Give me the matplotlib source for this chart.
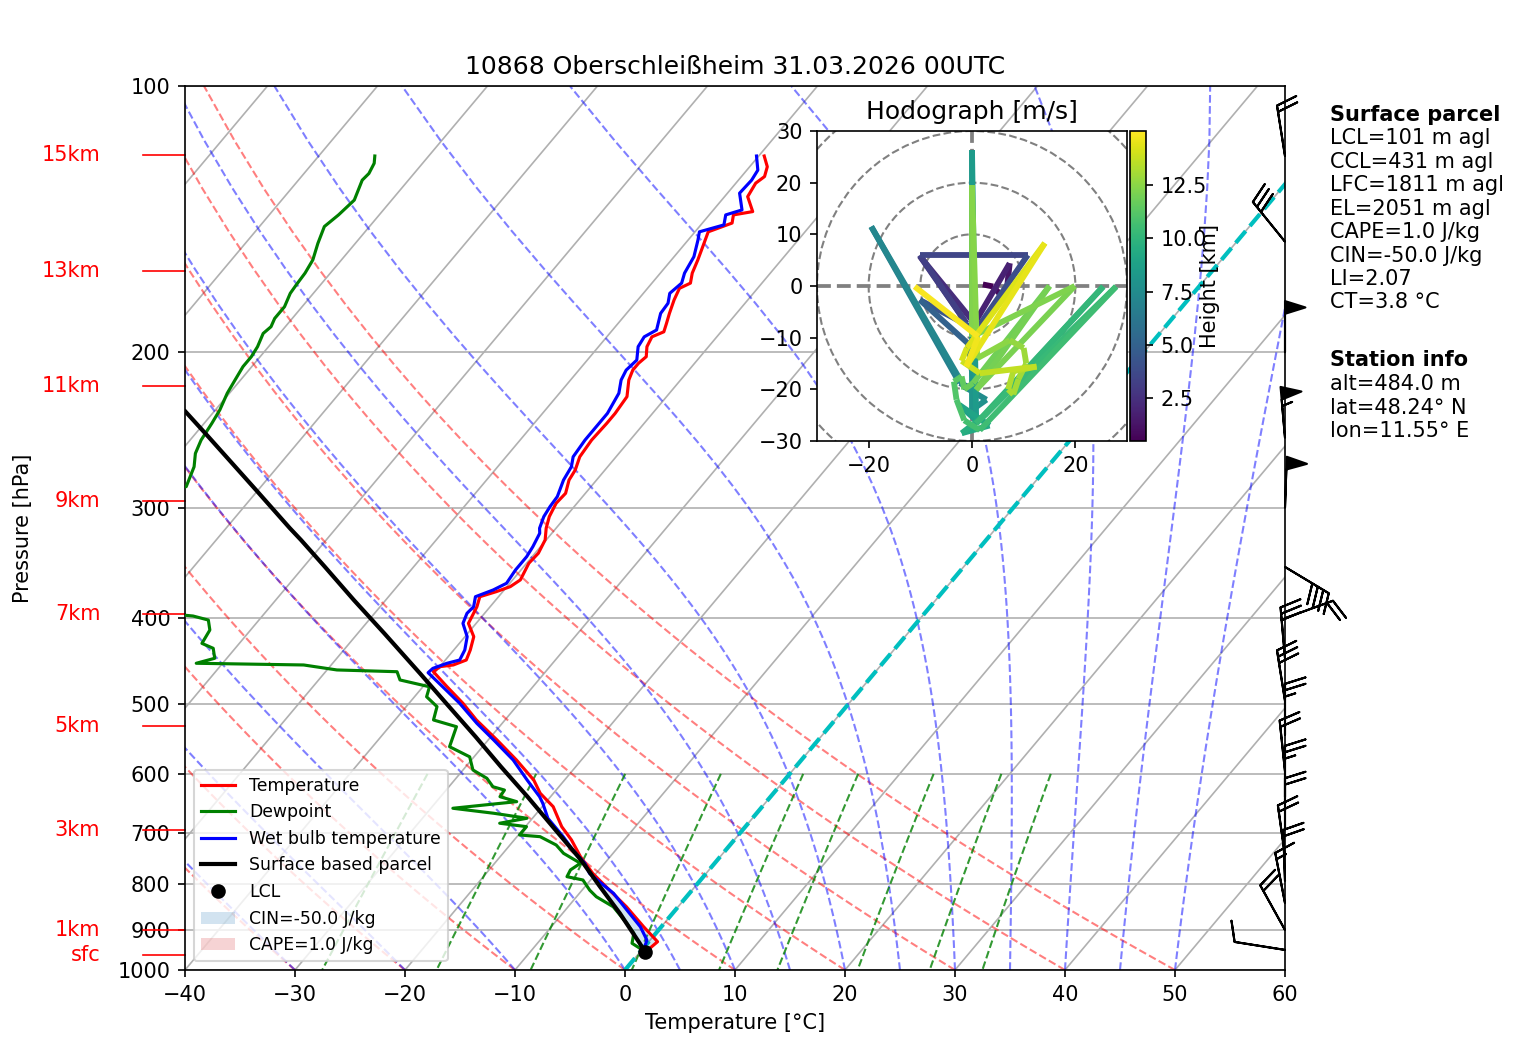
import numpy as np
import matplotlib
matplotlib.use("Agg")
import matplotlib.pyplot as plt
import matplotlib.transforms as mtransforms
from matplotlib.collections import LineCollection
from matplotlib.lines import Line2D
from matplotlib.patches import Patch, Circle
from matplotlib.colors import Normalize
from matplotlib.ticker import NullLocator

# ---------------- data ----------------
title = "10868 Oberschleißheim 31.03.2026 00UTC"

temp_p = [945.0, 929.0, 893.6, 848.1, 812.3, 777.6, 744.4, 712.6, 688.4, 653.5, 631.1, 609.7,
          578.7, 549.3, 521.4, 499.2, 478.2, 459.8, 453.8, 451.8, 446.0, 434.5, 419.7, 405.4,
          398.4, 388.2, 378.2, 373.3, 368.4, 362.0, 346.6, 337.7, 326.2, 316.4, 307.0, 296.5,
          288.9, 279.1, 271.9, 262.7, 251.5, 240.8, 234.6, 224.6, 215.1, 209.6, 205.9, 202.4,
          197.2, 192.2, 189.7, 185.6, 180.8, 174.6, 169.4, 167.1, 162.8, 157.3, 150.7, 146.2,
          142.9, 139.9, 138.7, 133.4, 128.8, 126.6, 123.4, 120.0]
temp_t = [0.6, 0.8, -1.6, -4.7, -7.5, -10.3, -12.7, -14.8, -16.7, -19.0, -21.2, -22.8,
          -25.9, -29.2, -32.6, -35.1, -37.8, -40.2, -40.0, -38.9, -38.1, -38.5, -39.2, -40.7,
          -40.9, -41.2, -41.7, -40.6, -39.7, -39.3, -39.8, -39.7, -40.1, -40.9, -41.5, -41.9,
          -41.8, -42.5, -42.7, -43.3, -43.5, -43.4, -43.4, -43.6, -44.7, -45.1, -45.1, -44.9,
          -45.6, -45.9, -45.2, -45.6, -46.1, -46.7, -47.1, -46.5, -47.1, -47.6, -48.3, -48.8,
          -47.3, -47.8, -46.3, -47.9, -48.2, -47.9, -48.4, -49.5]

dew_p = [945.1, 932.8, 908.9, 885.5, 848.1, 826.3, 812.3, 791.0, 784.2, 770.5, 757.3, 737.9,
         722.1, 706.6, 703.5, 688.4, 682.3, 673.5, 664.8, 656.2, 645.0, 636.7, 625.8, 620.4,
         606.9, 593.9, 573.9, 559.0, 530.6, 521.4, 503.6, 490.8, 478.2, 469.8, 459.8, 457.7,
         451.8, 449.8, 444.0, 432.6, 427.1, 412.5, 401.9, 397.7, 396.7, 385.0, 350.0, 310.0,
         283.9, 269.6, 260.4, 251.5, 240.8, 232.5, 222.6, 215.1, 207.7, 202.4, 197.2, 190.5,
         187.2, 183.2, 177.7, 171.6, 167.9, 162.8, 157.3, 150.7, 144.2, 139.9, 134.6, 127.8,
         125.6, 122.3, 120.0]
dew_t = [-0.3, -1.4, -2.0, -3.4, -5.9, -8.2, -9.3, -10.7, -12.4, -12.6, -12.2, -14.5,
         -15.8, -17.9, -19.9, -19.9, -22.6, -20.5, -23.9, -28.0, -22.7, -24.6, -24.7, -26.0,
         -27.2, -29.1, -30.4, -33.0, -33.9, -36.5, -37.2, -38.9, -39.4, -42.6, -43.5, -49.1,
         -52.5, -62.4, -61.1, -62.0, -63.4, -63.7, -64.6, -66.3, -67.3, -78.0, -86.0, -85.0,
         -76.8, -77.6, -78.5, -79.0, -79.3, -79.6, -80.2, -80.5, -80.8, -80.8, -81.0, -81.5,
         -81.3, -81.6, -81.6, -82.1, -82.2, -82.3, -82.6, -83.4, -84.1, -83.7, -83.4, -84.2,
         -84.1, -84.4, -84.9]

wb_p = [945.0, 924.9, 893.6, 855.5, 818.9, 791.0, 777.6, 757.3, 731.6, 706.6, 673.5, 647.8,
        636.7, 609.7, 578.7, 549.3, 526.0, 499.2, 478.2, 461.0, 455.8, 449.8, 446.0, 434.5,
        419.7, 405.4, 394.9, 388.2, 378.2, 371.6, 365.2, 352.7, 340.7, 332.0, 320.6, 316.4,
        307.0, 299.1, 291.4, 279.1, 269.6, 262.7, 251.5, 240.8, 234.6, 222.6, 215.1, 209.6,
        204.2, 197.2, 192.2, 188.8, 180.8, 176.1, 171.6, 167.1, 162.8, 156.0, 149.4, 146.2,
        143.6, 139.9, 138.1, 132.2, 127.8, 124.5, 120.0]
wb_t = [0.1, -0.3, -1.9, -4.4, -6.9, -9.4, -10.6, -11.8, -13.9, -15.8, -18.6, -20.2,
        -21.0, -23.4, -26.2, -29.5, -32.3, -35.4, -38.2, -40.6, -40.5, -39.6, -38.7, -39.0,
        -39.8, -41.2, -41.6, -41.5, -42.1, -41.0, -40.3, -40.5, -40.5, -40.7, -41.1, -41.5,
        -42.0, -42.2, -42.3, -43.0, -43.3, -43.9, -44.1, -44.1, -44.1, -44.6, -45.4, -45.7,
        -45.5, -46.4, -46.6, -46.0, -46.9, -47.0, -47.6, -47.3, -47.8, -48.2, -49.1, -49.6,
        -47.9, -48.5, -47.4, -48.9, -48.8, -49.0, -50.2]

parcel_p = [953.5, 932.8, 862.7, 805.4, 750.9, 694.5, 636.7, 588.9, 544.6, 503.6, 461.7,
            416.0, 381.5, 349.7, 326.2, 316.4, 286.4, 267.2, 249.3, 233.5]
parcel_t = [0.4, -0.7, -4.8, -8.6, -12.4, -17.0, -22.1, -26.8, -31.4, -36.1, -41.3,
            -47.6, -52.9, -58.1, -62.3, -64.2, -70.2, -74.4, -78.6, -82.6]

lcl_p = 953.5
lcl_t = 0.4
lfc_p = 770.0

height_labels = ["sfc", "1km", "3km", "5km", "7km", "9km", "11km", "13km", "15km"]
height_p = [961.7, 901.1, 694.5, 529.6, 395.9, 294.7, 218.5, 161.9, 119.7]

barb_p = [949, 901, 840, 793, 743, 693, 637, 596, 542, 496, 444, 400, 350, 300, 250, 200, 150, 120]
barb_dir = [279, 331, 349, 358, 352, 0, 0, 354, 0, 351, 355, 70, 121, 2, 355, 0, 321, 351]
barb_spd = [10, 20, 15, 20, 20, 20, 25, 20, 25, 30, 30, 20, 40, 50, 55, 50, 30, 20]

hodo_h = [0.48, 0.9, 1.3, 1.8, 2.3, 2.8, 3.2, 3.5, 3.9, 4.4, 5.0, 5.6, 6.2, 6.8, 7.2, 7.5,
          7.8, 8.1, 8.4, 8.7, 9.0, 9.3, 9.6, 9.9, 10.1, 10.3, 10.5, 10.7, 10.9, 11.1, 11.3,
          11.5, 11.7, 11.9, 12.0, 12.1, 12.2, 12.3, 12.4, 12.5, 12.7, 12.9, 13.0, 13.1, 13.2,
          13.3, 13.5, 13.7, 13.9, 14.1, 14.3, 14.5, 14.7, 14.9, 15.04]
hodo_u = [2.1, 4.1, 6.5, 7.3, 0.5, -10.1, -1.1, -10.1, 10.8, 0.8, -10.1, -0.8, 0.5, -2.4,
          -19.5, -1.5, 2.8, 0.0, 0.0, 0.8, -2.5, 3.4, -2.0, 2.5, 25.4, 0.8, 27.9, 1.5, -1.5,
          -3.0, -3.5, -2.0, -1.5, 0.2, 15.0, 0.8, 19.9, 0.0, 0.0, 1.0, 7.3, 10.0, 10.5, 9.0,
          8.0, 7.0, 8.0, 12.5, 1.5, -2.0, -1.0, 14.1, -1.1, 1.2, -11.1]
hodo_v = [0.3, -0.1, -2.8, 4.4, -7.2, 5.8, -7.2, 6.0, 6.0, -8.5, -2.7, -11.1, -20.0, -18.8,
          11.5, -19.5, -22.0, -24.0, 26.3, -26.0, -23.0, -27.0, -28.5, -25.0, -0.1, -26.6,
          -0.1, -27.9, -26.0, -22.0, -18.5, -17.5, -20.0, -18.8, 0.0, -20.1, 0.0, -9.8, 19.5,
          -14.0, -10.5, -12.0, -15.0, -18.0, -21.0, -20.0, -16.5, -15.6, -16.9, -14.5, -12.0,
          8.3, -15.6, -9.8, -0.1]

parcel_info = ["LCL=101 m agl", "CCL=431 m agl", "LFC=1811 m agl", "EL=2051 m agl",
               "CAPE=1.0 J/kg", "CIN=-50.0 J/kg", "LI=2.07", "CT=3.8 °C"]
station_info = ["alt=484.0 m", "lat=48.24° N", "lon=11.55° E"]

# ---------------- figure / skew-T axes ----------------
W, H, DPI = 1517, 1056, 150
fig = plt.figure(figsize=(W / DPI, H / DPI), dpi=DPI)
ax = fig.add_axes([185 / W, 1 - 970 / H, 1100 / W, 884 / H])
ax.set_yscale("log")
ax.set_xlim(-40, 60)
ax.set_ylim(1000, 100)

SKEW = 0.675  # skew factor in axes coordinates
skew_tr = ax.transScale + (ax.transLimits + mtransforms.Affine2D().skew(np.arctan(SKEW), 0)) + ax.transAxes

yt = [100, 200, 300, 400, 500, 600, 700, 800, 900, 1000]
ax.set_yticks(yt)
ax.set_yticklabels([str(v) for v in yt])
ax.yaxis.set_minor_locator(NullLocator())
ax.set_xticks(np.arange(-40, 61, 10))
ax.grid(axis="y", color="#b0b0b0", lw=0.8)
ax.set_axisbelow(True)

pg = np.linspace(1000, 100, 60)

# isotherms (skewed grid)
for t in range(-130, 61, 10):
    ax.plot([t, t], [1000, 100], transform=skew_tr, color="#b0b0b0", lw=0.8, zorder=1)

# dry adiabats
th0 = np.arange(-40, 51, 10)
dry = [np.column_stack(((t + 273.15) * (pg / 1000.0) ** 0.28571 - 273.15, pg)) for t in th0]
ax.add_collection(LineCollection(dry, colors="r", linestyles="dashed", alpha=0.5,
                                 linewidths=1, transform=skew_tr, zorder=1.2))

# moist adiabats
def moist_lapse(t0c, p):
    Rd, Cp, Lv, eps = 287.04749, 1004.6662, 2.50084e6, 0.6219569
    def es(T):
        return 6.112 * np.exp(17.67 * (T - 273.15) / (T - 29.65))
    def f(T, pp):
        e = es(T)
        rs = eps * e / (pp - e)
        return (Rd * T + Lv * rs) / (Cp + Lv * Lv * rs * eps / (Rd * T * T)) / pp
    T = np.asarray(t0c, float) + 273.15
    out = [T.copy()]
    for i in range(1, len(p)):
        n = 8
        h = (p[i] - p[i - 1]) / n
        pp = p[i - 1]
        for _ in range(n):
            k1 = f(T, pp)
            k2 = f(T + h / 2 * k1, pp + h / 2)
            k3 = f(T + h / 2 * k2, pp + h / 2)
            k4 = f(T + h * k3, pp + h)
            T = T + h / 6 * (k1 + 2 * k2 + 2 * k3 + k4)
            pp += h
        out.append(T.copy())
    return np.array(out) - 273.15

mt0 = np.concatenate((np.arange(-40, 0, 10), np.arange(0, 51, 5)))
mt = moist_lapse(mt0, pg)
moist = [np.column_stack((mt[:, i], pg)) for i in range(len(mt0))]
ax.add_collection(LineCollection(moist, colors="b", linestyles="dashed", alpha=0.5,
                                 linewidths=1, transform=skew_tr, zorder=1.2))

# mixing ratio lines
wr = np.array([0.0004, 0.001, 0.002, 0.004, 0.007, 0.01, 0.016, 0.024, 0.032])
pm = np.linspace(600, 1000, 30)
mix = []
for w in wr:
    e = pm * w / (0.622 + w)
    ln = np.log(e / 6.112)
    td = 243.5 * ln / (17.67 - ln)
    mix.append(np.column_stack((td, pm)))
ax.add_collection(LineCollection(mix, colors="g", linestyles="dashed", alpha=0.8,
                                 linewidths=1, transform=skew_tr, zorder=1.2))

# 0 degC isotherm
ax.plot([0, 0], [1000, 100], transform=skew_tr, color="c", ls="--", lw=2, zorder=1.5)

# CIN / CAPE shading
tp = np.array(temp_p)
tt = np.array(temp_t)
sel = tp >= lfc_p
ps = tp[sel]
ts = tt[sel]
lp = np.log(np.array(parcel_p))
pi = np.interp(np.log(ps)[::-1], lp[::-1], np.array(parcel_t)[::-1])[::-1]
ax.fill_betweenx(ps, pi, ts, where=ts >= pi, color="tab:blue", alpha=0.2,
                 transform=skew_tr, lw=0, zorder=1.8)
ax.fill_betweenx(ps, pi, ts, where=pi > ts, color="tab:red", alpha=0.2,
                 transform=skew_tr, lw=0, zorder=1.8)

# profiles
ax.plot(temp_t, temp_p, color="r", lw=1.5, transform=skew_tr, zorder=3)
ax.plot(dew_t, dew_p, color="g", lw=1.5, transform=skew_tr, zorder=3)
ax.plot(wb_t, wb_p, color="b", lw=1.5, transform=skew_tr, zorder=3)
ax.plot(parcel_t, parcel_p, color="k", lw=2, transform=skew_tr, zorder=3)
ax.plot([lcl_t], [lcl_p], "ko", ms=6, transform=skew_tr, zorder=4)

# height markers on the left
blend = mtransforms.blended_transform_factory(ax.transAxes, ax.transData)
for lab, p in zip(height_labels, height_p):
    ax.plot([-0.038, 0], [p, p], color="r", lw=0.8, transform=blend, clip_on=False)
    ax.text(-0.077, p, lab, color="r", fontsize=10, ha="right", va="center",
            transform=blend, clip_on=False)

# wind barbs
bd = np.deg2rad(np.array(barb_dir, float))
bs = np.array(barb_spd, float)
bu = -bs * np.sin(bd)
bv = -bs * np.cos(bd)
ax.barbs(np.ones(len(barb_p)), np.array(barb_p, float), bu, bv, transform=blend,
         clip_on=False, length=7, zorder=5)

ax.set_xlim(-40, 60)
ax.set_ylim(1000, 100)

# legend
handles = [
    Line2D([], [], color="r", lw=1.5, label="Temperature"),
    Line2D([], [], color="g", lw=1.5, label="Dewpoint"),
    Line2D([], [], color="b", lw=1.5, label="Wet bulb temperature"),
    Line2D([], [], color="k", lw=2, label="Surface based parcel"),
    Line2D([], [], color="k", marker="o", ms=6, ls="none", label="LCL"),
    Patch(facecolor="tab:blue", alpha=0.2, label="CIN=-50.0 J/kg"),
    Patch(facecolor="tab:red", alpha=0.2, label="CAPE=1.0 J/kg"),
]
ax.legend(handles=handles, loc="lower left", fontsize=8.3)

ax.set_title(title, fontsize=12)
ax.set_xlabel("Temperature [°C]")
ax.set_ylabel("Pressure [hPa]")
ax.yaxis.set_label_coords(-0.138, 0.5)

# ---------------- hodograph ----------------
hax = fig.add_axes([817 / W, 1 - 441 / H, 310 / W, 310 / H])
hax.set_xlim(-30, 30)
hax.set_ylim(-30, 30)
hax.set_aspect("equal")
for r in (10, 20, 30, 40):
    hax.add_patch(Circle((0, 0), r, fill=False, color="grey", ls="--", lw=1))
hax.axhline(0, color="grey", ls="--", lw=1.8)
hax.axvline(0, color="grey", ls="--", lw=1.8)
pts = np.column_stack((hodo_u, hodo_v))
segs = np.stack((pts[:-1], pts[1:]), axis=1)
norm = Normalize(vmin=min(hodo_h), vmax=max(hodo_h))
lc = LineCollection(segs, cmap="viridis", norm=norm, linewidths=2.8, capstyle="butt")
lc.set_array(np.array(hodo_h[:-1]))
hax.add_collection(lc)
hax.set_xticks([-20, 0, 20])
hax.set_yticks([-30, -20, -10, 0, 10, 20, 30])
hax.set_title("Hodograph [m/s]", fontsize=12)

cax = fig.add_axes([1130 / W, 1 - 441 / H, 16 / W, 310 / H])
cb = fig.colorbar(lc, cax=cax)
cb.set_ticks([2.5, 5.0, 7.5, 10.0, 12.5])
cb.set_label("Height [km]")
cax.yaxis.set_label_coords(4.4, 0.5)

# ---------------- info text ----------------
x0 = 1330 / W
fig.text(x0, 1 - 115 / H, "Surface parcel", fontsize=10, fontweight="bold", va="center")
for i, s in enumerate(parcel_info):
    fig.text(x0, 1 - (138.5 + 23.4 * i) / H, s, fontsize=10, va="center")
fig.text(x0, 1 - 360 / H, "Station info", fontsize=10, fontweight="bold", va="center")
for i, s in enumerate(station_info):
    fig.text(x0, 1 - (384 + 23.6 * i) / H, s, fontsize=10, va="center")

fig.savefig("out.png", dpi=DPI)
